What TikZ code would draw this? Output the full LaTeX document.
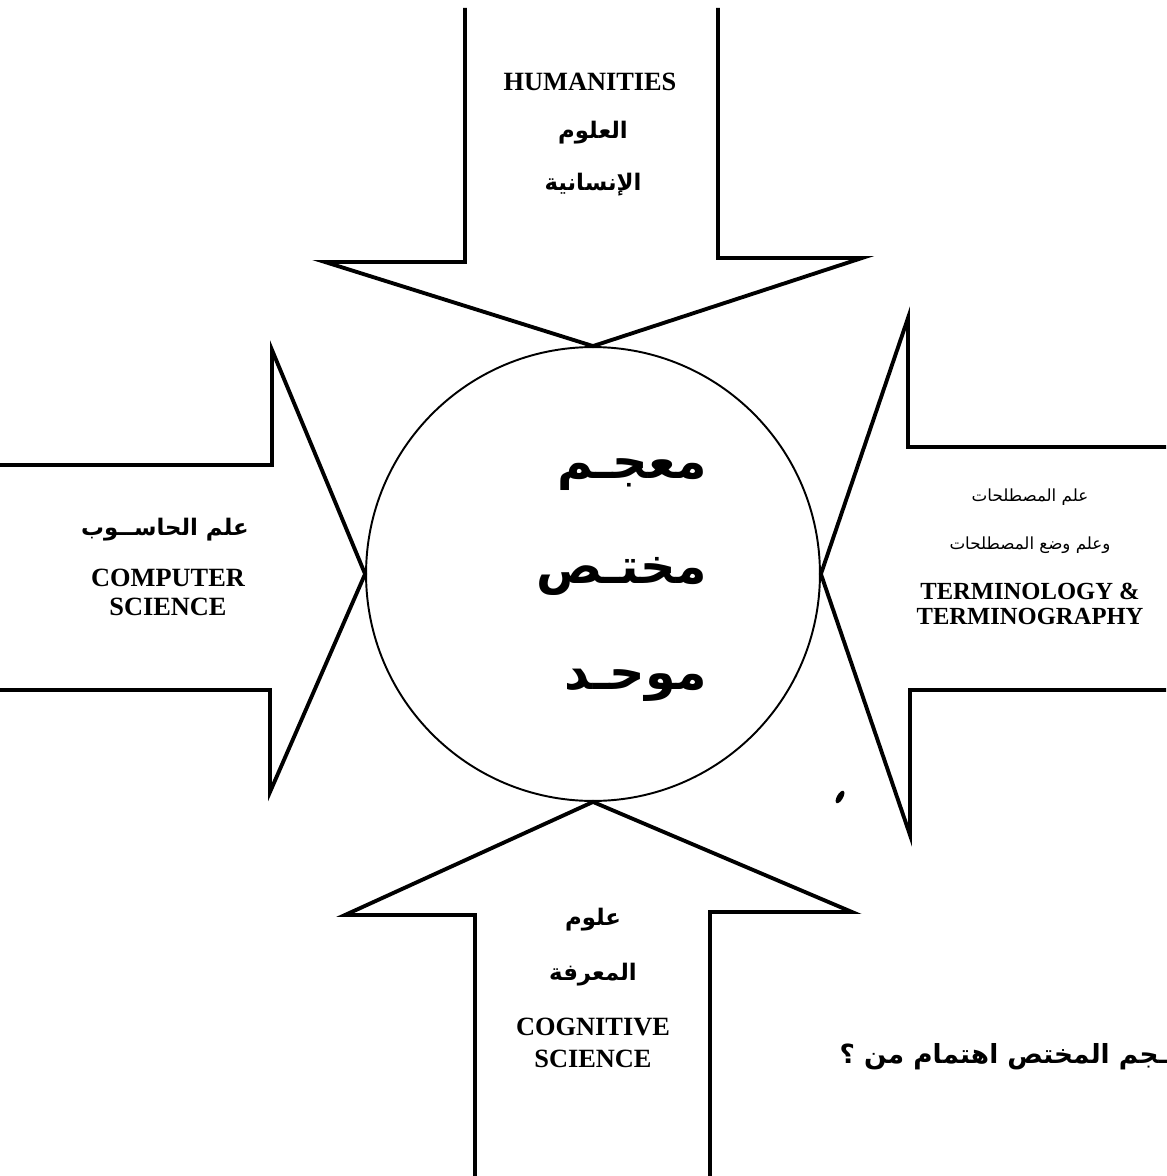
\documentclass[tikz,border=0pt]{standalone}
\usepackage{fontspec}
\setmainfont{Liberation Serif}
\newfontfamily\arabicfont[Script=Arabic]{DejaVu Sans}
\TeXXeTstate=1

\tikzset{
		arrowshape/.style = {draw, line width=2.2pt, line join=miter, miter limit=20},
		hub/.style        = {shape=circle, draw, line width=1.1pt, fill=white,
				minimum size=9.08cm, inner sep=0pt},
		hubname/.style    = {align=right, inner sep=0pt,
				font=\arabicfont\bfseries\fontsize{28}{60}\selectfont},
		engname/.style    = {align=center, inner sep=0pt,
				font=\bfseries\fontsize{15}{16}\selectfont},
		arabname/.style   = {align=center, inner sep=0pt,
				font=\arabicfont\bfseries\fontsize{13}{15}\selectfont},
		arabsmall/.style  = {arabname, font=\arabicfont\fontsize{9.5}{11}\selectfont}
	}

\begin{document}
\begin{tikzpicture}
				[x=0.02cm, y=-0.02cm]
				\useasboundingbox (0,0) rectangle (1166,1176);
				\node [hub] (dict) at (593,574) {};
				\node [hubname, anchor=east] (dictname) at (707,580)
				{\beginR معجـم\endR\\ \beginR مختـص\endR\\ \beginR موحـد\endR};

				\draw [arrowshape] (465,8) -- (465,262) -- (325,262) -- (dict.north)
				-- (862,258) -- (718,258) -- (718,8);
				\draw [arrowshape] (0,465) -- (272,465) -- (272,350) -- (dict.west)
				-- (270,792) -- (270,690) -- (0,690);
				\draw [arrowshape] (1166,447) -- (908,447) -- (908,318) -- (dict.east)
				-- (910,835) -- (910,690) -- (1166,690);
				\draw [arrowshape] (475,1176) -- (475,915) -- (345,915) -- (dict.south)
				-- (852,912) -- (710,912) -- (710,1176);

				\node [engname] (human) at (590,82) {HUMANITIES};
				\node [arabname] (humar1) at (593,133) {\beginR العلوم\endR};
				\node [arabname] (humar2) at (593,185) {\beginR الإنسانية\endR};

				\node [arabname] (compar) at (165,530) {\beginR علم الحاســوب\endR};
				\node [engname, font=\bfseries\fontsize{15}{16.5}\selectfont] (comp) at (168,592) {COMPUTER\\SCIENCE};

				\node [arabsmall] (termar1) at (1030,497) {\beginR علم المصطلحات\endR};
				\node [arabsmall] (termar2) at (1030,545) {\beginR وعلم وضع المصطلحات\endR};
				\node [engname, font=\bfseries\fontsize{14}{14.5}\selectfont] (term) at (1030,604) {TERMINOLOGY \&\\TERMINOGRAPHY};

				\node [arabname] (cogar1) at (593,920) {\beginR علوم\endR};
				\node [arabname] (cogar2) at (593,975) {\beginR المعرفة\endR};
				\node [engname, font=\bfseries\fontsize{15}{18.5}\selectfont] (cog) at (593,1043) {COGNITIVE\\SCIENCE};

				\node [arabname, font=\arabicfont\bfseries\fontsize{15}{18}\selectfont, anchor=east] (question)
				at (1168,1057) {\beginR ـجم المختص اهتمام من ؟\endR};

				\fill [rotate around={-30:(840,797)}] (840,797) ellipse (3 and 7);
			\end{tikzpicture}
\end{document}
